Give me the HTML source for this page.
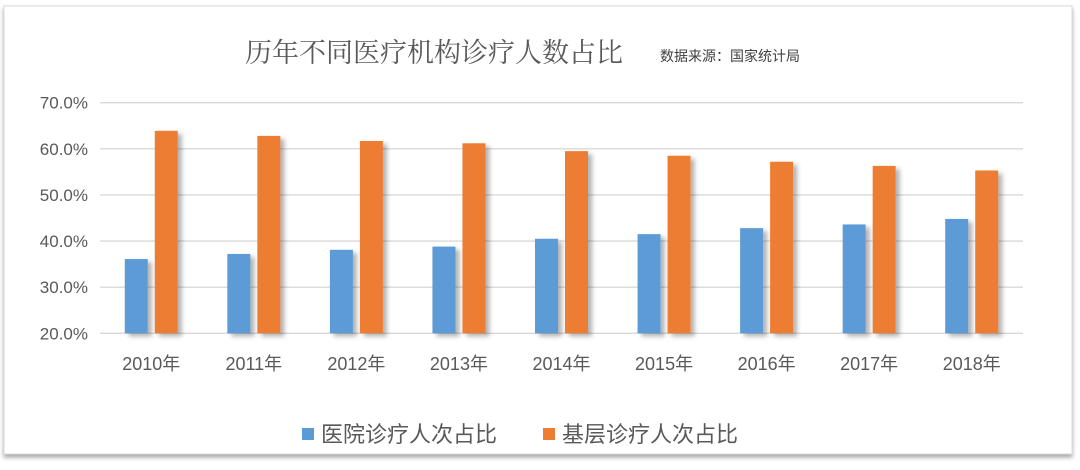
<!DOCTYPE html>
<html><head><meta charset="utf-8"><style>
body{margin:0;background:#fff;width:1080px;height:465px;overflow:hidden}
svg text{font-family:"Liberation Sans","Noto Sans CJK SC",sans-serif}
</style></head><body>
<svg width="1080" height="465" xmlns="http://www.w3.org/2000/svg">
<defs>
<filter id="sh" x="-20%" y="-10%" width="160%" height="130%"><feDropShadow dx="4" dy="3" stdDeviation="2.5" flood-color="#000" flood-opacity="0.3"/></filter>
<filter id="fs" x="-5%" y="-5%" width="110%" height="115%"><feDropShadow dx="0" dy="3" stdDeviation="2" flood-color="#000" flood-opacity="0.35"/></filter>
</defs>
<rect x="4" y="6" width="1068" height="448" fill="#fff" stroke="#d9d9d9" filter="url(#fs)"/>
<text x="245" y="62" font-size="27" fill="#595959" style="font-family:'Liberation Serif','Noto Serif CJK SC',serif">历年不同医疗机构诊疗人数占比</text>
<text x="660" y="61" font-size="14" fill="#404040">数据来源：国家统计局</text>
<g id="grid"></g><g id="bars"></g><g id="labels"></g>
<g>
<rect x="302" y="428" width="12" height="12" fill="#5b9bd5"/>
<text x="321" y="442" font-size="22" fill="#595959">医院诊疗人次占比</text>
<rect x="543" y="428" width="12" height="12" fill="#ed7d31"/>
<text x="562" y="442" font-size="22" fill="#595959">基层诊疗人次占比</text>
</g>
</svg>
<script>
const categories=["2010年","2011年","2012年","2013年","2014年","2015年","2016年","2017年","2018年"];
const hospital=[36.1,37.2,38.1,38.8,40.5,41.5,42.8,43.6,44.8];
const primary=[63.9,62.8,61.7,61.2,59.5,58.5,57.2,56.3,55.3];
const ticks=[20,30,40,50,60,70];
const tickLabels=["20.0%","30.0%","40.0%","50.0%","60.0%","70.0%"];
const NS="http://www.w3.org/2000/svg";
const x0=100,x1=1023,yMin=20,yMax=70,yTop=102.7,yBot=333.3;
const y=v=>yBot-(v-yMin)/(yMax-yMin)*(yBot-yTop);
const step=(x1-x0)/categories.length;
const cx=i=>x0+step*(i+0.5);
function mk(tag,attrs,parent){const e=document.createElementNS(NS,tag);for(const k in attrs)e.setAttribute(k,attrs[k]);document.getElementById(parent).appendChild(e);return e;}
ticks.forEach((t,i)=>{
 const l=mk('line',{x1:x0,x2:x1,y1:y(t),y2:y(t),stroke:'#d9d9d9','stroke-width':1.3},'grid');
 
 
 const tx=mk('text',{x:88,y:y(t)+6,'text-anchor':'end','font-size':17,fill:'#595959'},'labels');
 tx.textContent=tickLabels[i];
 
 
});
const bw=23;
categories.forEach((c,i)=>{
 const b1=mk('rect',{x:cx(i)-bw-3.5,y:y(hospital[i]),width:bw,height:yBot-y(hospital[i]),fill:'#5b9bd5',filter:'url(#sh)'},'bars');
 
 
 const b2=mk('rect',{x:cx(i)+3.5,y:y(primary[i]),width:bw,height:yBot-y(primary[i]),fill:'#ed7d31',filter:'url(#sh)'},'bars');
 
 
 const t=mk('text',{x:cx(i),y:370,'text-anchor':'middle','font-size':18,fill:'#595959'},'labels');
 t.textContent=c;
 
 
});
</script>
</body></html>
